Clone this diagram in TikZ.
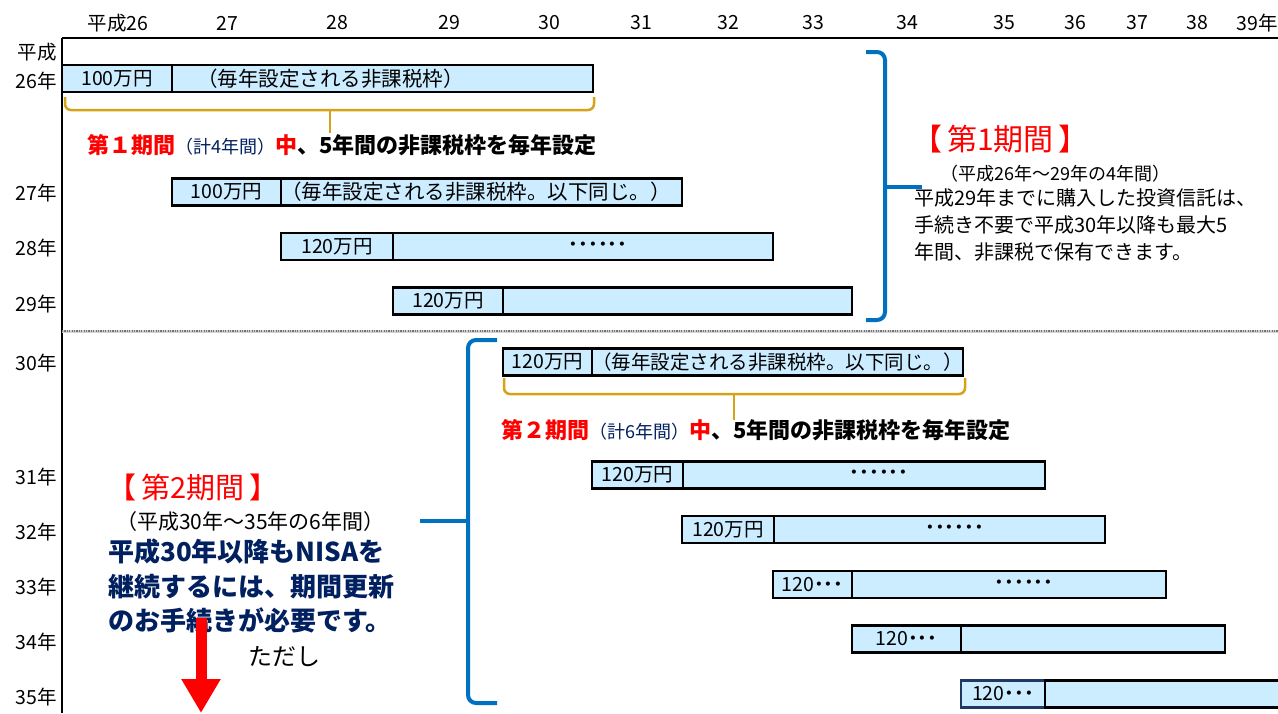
\documentclass[tikz,border=0pt]{standalone}
\usepackage{fontspec}
\setmainfont{Noto Sans CJK JP}
\usepackage{tikz}
\usetikzlibrary{positioning, arrows.meta}

\definecolor{barblue}{RGB}{204,236,255}
\definecolor{bracegold}{RGB}{214,162,24}
\definecolor{braceblue}{RGB}{0,112,192}
\definecolor{navytext}{RGB}{0,32,96}
\definecolor{boxnavy}{RGB}{31,56,100}
\newcommand{\setfs}[1]{\fontsize{#1}{#1}\selectfont}
\newcommand{\sixdots}{{\bfseries ･･････}}
\newcommand{\threedots}{{\bfseries ･･･}}

\begin{document}
\begin{tikzpicture}[x=1pt, y=-1pt,
  yearlbl/.style={font=\setfs{19.5}, inner sep=1pt},
  amtbox/.style={draw, line width=2.8pt, fill=barblue, minimum height=27pt, inner sep=0pt, outer sep=0pt, font=\setfs{19.5}},
  restbox/.style={amtbox, align=left},
  goldbrace/.style={draw=bracegold, line width=2.5pt, rounded corners=6pt},
  bluebrace/.style={draw=braceblue, line width=4pt, rounded corners=8pt},
  periodhead/.style={text=red, inner sep=0pt, anchor=west},
  plain/.style={inner sep=0pt, anchor=west}]
\path[use as bounding box, fill=white] (0,0) rectangle (1278,713);

% year scale on top
\node[yearlbl] (hd_26) at (118,23) {平成26};
\node[yearlbl] (hd_27) at (227,23) {27};
\node[yearlbl] (hd_28) at (337,23) {28};
\node[yearlbl] (hd_29) at (449,23) {29};
\node[yearlbl] (hd_30) at (549,23) {30};
\node[yearlbl] (hd_31) at (641,23) {31};
\node[yearlbl] (hd_32) at (728,23) {32};
\node[yearlbl] (hd_33) at (813,23) {33};
\node[yearlbl] (hd_34) at (907,23) {34};
\node[yearlbl] (hd_35) at (1004,23) {35};
\node[yearlbl] (hd_36) at (1075,23) {36};
\node[yearlbl] (hd_37) at (1137,23) {37};
\node[yearlbl] (hd_38) at (1197,23) {38};
\node[yearlbl, anchor=east] (hd_39) at (1279,23) {39年};

% years down the left side
\node[yearlbl, anchor=east] (yr_hs) at (58,52) {平成};
\node[yearlbl, anchor=east] (yr_26) at (58,81) {26年};
\node[yearlbl, anchor=east] (yr_27) at (58,193) {27年};
\node[yearlbl, anchor=east] (yr_28) at (58,248) {28年};
\node[yearlbl, anchor=east] (yr_29) at (58,304) {29年};
\node[yearlbl, anchor=east] (yr_30) at (58,363) {30年};
\node[yearlbl, anchor=east] (yr_31) at (58,477) {31年};
\node[yearlbl, anchor=east] (yr_32) at (58,532) {32年};
\node[yearlbl, anchor=east] (yr_33) at (58,587) {33年};
\node[yearlbl, anchor=east] (yr_34) at (58,642) {34年};
\node[yearlbl, anchor=east] (yr_35) at (58,697) {35年};

% bars
\node[amtbox, minimum width=110pt, anchor=west] (amt_26) at (62,78.5) {100万円};
\node[restbox, text width=421pt, right=0pt of amt_26] (rest_26) {\hspace*{25pt}\setfs{20.5}（毎年設定される非課税枠）};
\node[amtbox, minimum width=109pt, anchor=west] (amt_27) at (172,192) {100万円};
\node[restbox, text width=401pt, right=0pt of amt_27] (rest_27) {\setfs{20.5}（毎年設定される非課税枠。以下同じ。）};
\node[amtbox, minimum width=112pt, anchor=west] (amt_28) at (281,246.5) {120万円};
\node[amtbox, minimum width=380pt, right=0pt of amt_28] (rest_28) {\hspace*{30pt}\sixdots};
\node[amtbox, minimum width=110pt, anchor=west] (amt_29) at (393,301) {120万円};
\node[amtbox, minimum width=349pt, right=0pt of amt_29] (rest_29) {};

\node[amtbox, minimum width=89pt, anchor=west] (amt_30) at (503,362) {120万円};
\node[restbox, text width=371pt, right=0pt of amt_30] (rest_30) {（毎年設定される非課税枠。以下同じ。）};
\node[amtbox, minimum width=91pt, anchor=west] (amt_31) at (592,475) {120万円};
\node[amtbox, minimum width=362pt, right=0pt of amt_31] (rest_31) {\hspace*{30pt}\sixdots};
\node[amtbox, minimum width=92pt, anchor=west] (amt_32) at (682,529.5) {120万円};
\node[amtbox, minimum width=331pt, right=0pt of amt_32] (rest_32) {\hspace*{30pt}\sixdots};
\node[amtbox, minimum width=79pt, anchor=west] (amt_33) at (773,584.5) {120\threedots};
\node[amtbox, minimum width=314pt, right=0pt of amt_33] (rest_33) {\hspace*{30pt}\sixdots};
\node[amtbox, minimum width=109pt, anchor=west] (amt_34) at (852,639) {120\threedots};
\node[amtbox, minimum width=264pt, right=0pt of amt_34] (rest_34) {};
\node[amtbox, minimum width=84pt, anchor=west, draw=boxnavy] (amt_35) at (961,694) {120\threedots};
\node[amtbox, minimum width=340pt, right=0pt of amt_35] (rest_35) {};

% axes and the line between the periods
\draw[line width=2pt] (62,38) -- (1278,38);
\draw[line width=2pt] (62,38) -- (62,713);
\draw[gray!35, line width=3pt] (62,331) -- (1278,331);
\draw[gray!90!black, line width=2pt, dash pattern=on 1.2pt off 1.2pt] (62,331) -- (1278,331);

% gold braces under the first bar of each period
\draw[goldbrace] (65,97) -- (65,110) -- (594,110) -- (594,97);
\draw[goldbrace] (330,110) -- (330,133);
\draw[goldbrace] (504,378) -- (504,394) -- (965,394) -- (965,378);
\draw[goldbrace] (734,394) -- (734,420);

\node[plain, font=\setfs{22}\bfseries] (note_p1) at (87,145)
  {{\color{red}第１期間}{\mdseries\setfs{18}\color{navytext}（計4年間）}{\color{red}中}、5年間の非課税枠を毎年設定};
\node[plain, font=\setfs{22}\bfseries] (note_p2) at (501,430)
  {{\color{red}第２期間}{\mdseries\setfs{18}\color{navytext}（計6年間）}{\color{red}中}、5年間の非課税枠を毎年設定};

% period 1
\draw[bluebrace] (866,52) -- (885,52) -- (885,320) -- (866,320);
\draw[bluebrace] (885,187) -- (922,187);
\node[periodhead, font=\setfs{30}] (head_p1) at (912,139) {【\hspace{5pt}第1期間\hspace{5pt}】};
\node[plain, font=\setfs{18}] (span_p1) at (940,174) {（平成26年～29年の4年間）};
\node[plain, font=\setfs{20}] (txt_p1a) at (914,198) {平成29年までに購入した投資信託は、};
\node[plain, font=\setfs{20}] (txt_p1b) at (914,225) {手続き不要で平成30年以降も最大5};
\node[plain, font=\setfs{20}] (txt_p1c) at (914,252) {年間、非課税で保有できます。};

% period 2
\draw[bluebrace] (497,340) -- (468,340) -- (468,703) -- (497,703);
\draw[bluebrace] (468,521) -- (420,521);
\node[periodhead, font=\setfs{29}] (head_p2) at (107,487) {【\hspace{5pt}第2期間\hspace{5pt}】};
\node[plain, font=\setfs{21}] (span_p2) at (116,522) {（平成30年～35年の6年間）};
\node[plain, font=\setfs{26}\bfseries, text=navytext] (txt_p2a) at (108,552) {平成30年以降もNISAを};
\node[plain, font=\setfs{26}\bfseries, text=navytext] (txt_p2b) at (108,587) {継続するには、期間更新};
\node[plain, font=\setfs{26}\bfseries, text=navytext] (txt_p2c) at (108,620) {のお手続きが必要です。};
\node[plain, font=\setfs{24}] (tadashi) at (248,657) {ただし};

\coordinate (arr_top) at (201,618);
\coordinate (arr_tip) at (201,713);
\draw[red, line width=11pt, -{Triangle[width=37pt, length=34pt]}] (arr_top) -- (arr_tip);

\end{tikzpicture}
\end{document}
